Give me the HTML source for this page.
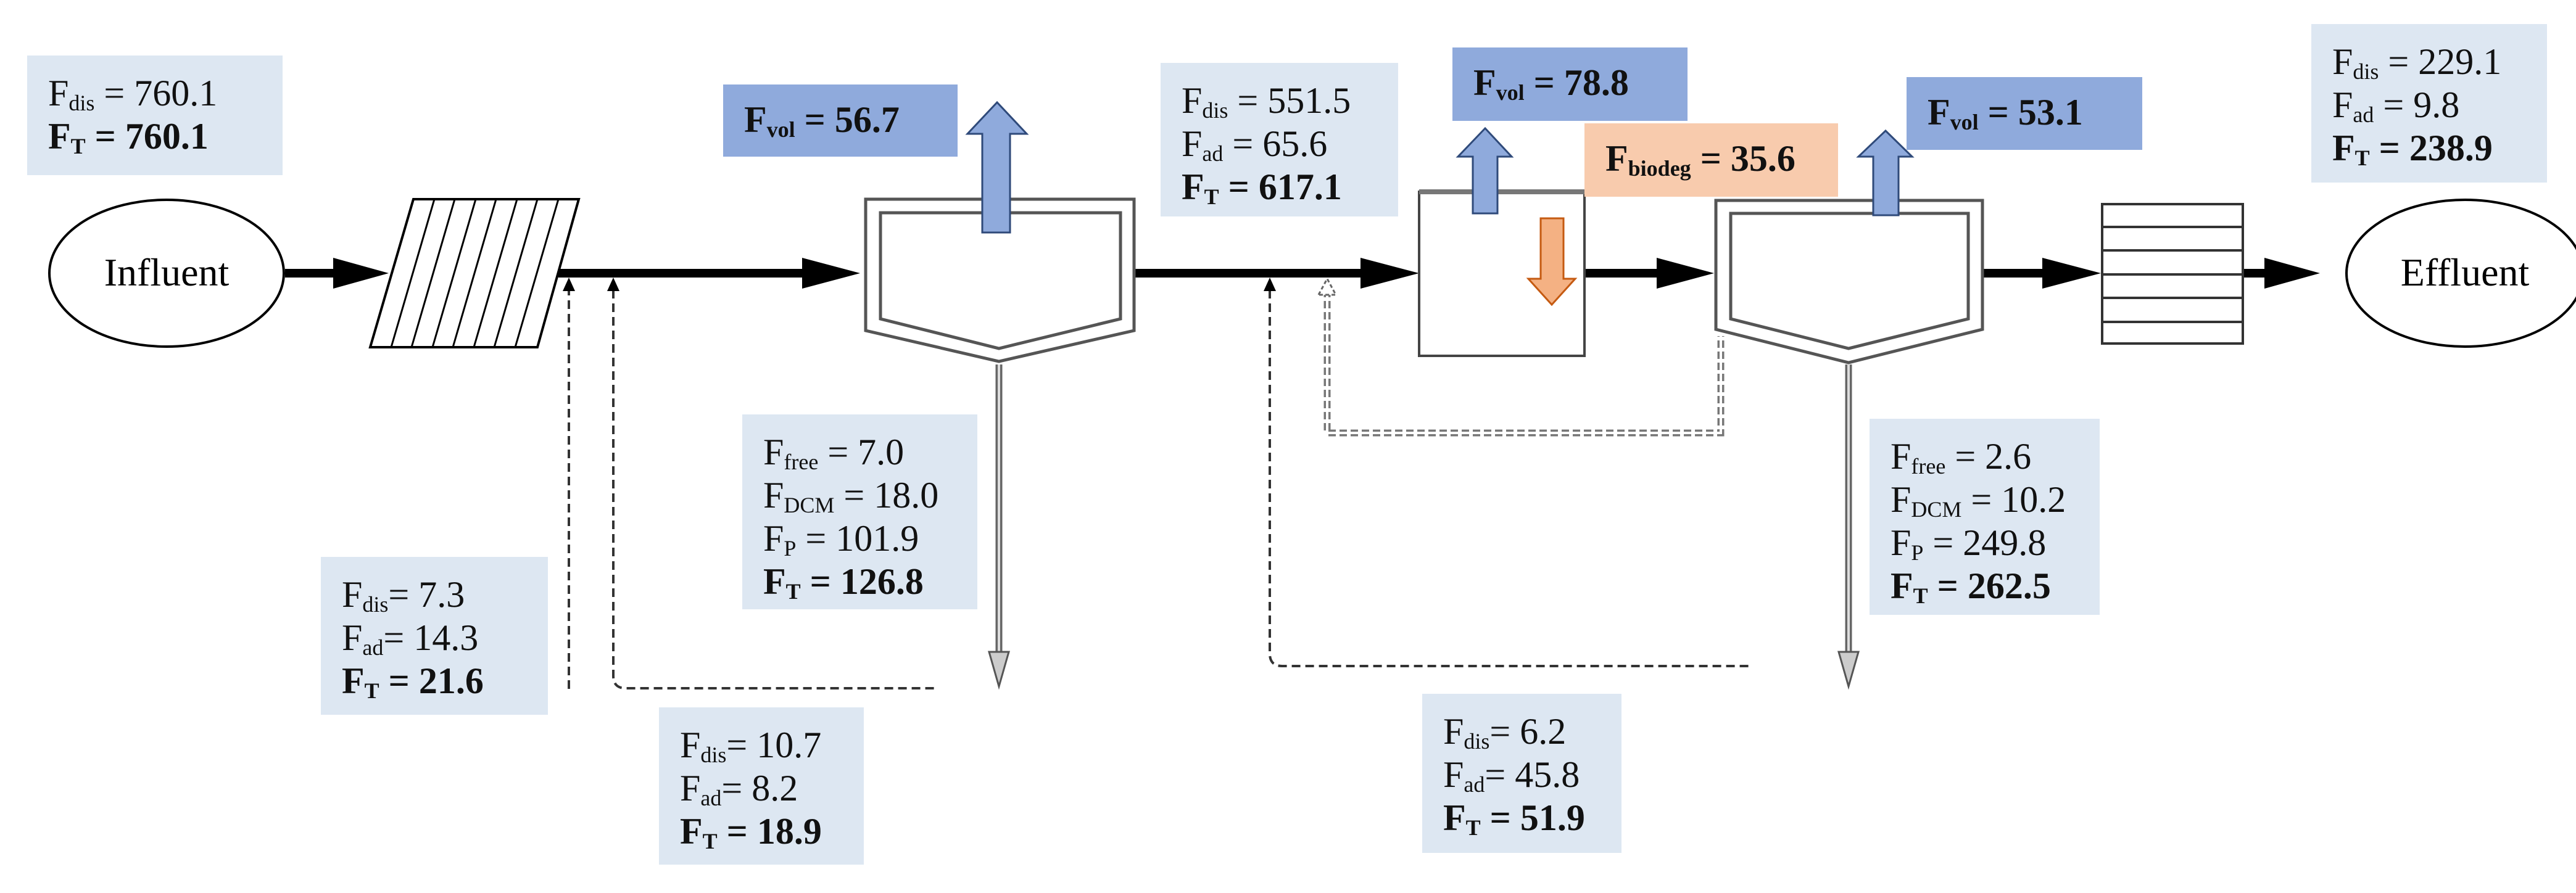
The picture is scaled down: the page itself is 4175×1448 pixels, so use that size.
<!DOCTYPE html>
<html><head><meta charset="utf-8"><style>
body{margin:0;width:4175px;height:1448px;background:#fff;position:relative;overflow:hidden;font-family:"Liberation Serif",serif;}
.b{position:absolute;background:#dde7f2;font-size:60px;line-height:70px;color:#111;padding:26px 34px;box-sizing:border-box;white-space:nowrap}
.b sub{font-size:36px;vertical-align:-8px;line-height:0}
.v{background:#8faadc;font-weight:bold}
.o{background:#f8cbad;font-weight:bold}
b{font-weight:bold}
svg{position:absolute;left:0;top:0}
</style></head><body>
<svg width="4175" height="1448" viewBox="0 0 4175 1448">
<defs>
<marker id="ah" markerWidth="6" markerHeight="6" refX="5" refY="3" orient="auto" markerUnits="strokeWidth"><path d="M0,0 L6,3 L0,6 z" fill="#000"/></marker>
</defs>
<g stroke="#000" stroke-width="4" fill="#fff">
<ellipse cx="270" cy="443" rx="190" ry="119"/>
<ellipse cx="3995" cy="443" rx="192" ry="119"/>
</g>
<text x="270" y="463" font-family="Liberation Serif" font-size="64" text-anchor="middle">Influent</text>
<text x="3995" y="463" font-family="Liberation Serif" font-size="64" text-anchor="middle">Effluent</text>
<!-- main thick lines -->
<g stroke="#000" stroke-width="14">
<line x1="462" y1="443" x2="560" y2="443"/>
<line x1="905" y1="443" x2="1310" y2="443"/>
<line x1="1838" y1="443" x2="2215" y2="443"/>
<line x1="2568" y1="443" x2="2695" y2="443"/>
<line x1="3213" y1="443" x2="3320" y2="443"/>
<line x1="3635" y1="443" x2="3680" y2="443"/>
</g>
<g fill="#000">
<path d="M540,418 L630,443 L540,468z"/>
<path d="M1300,418 L1394,443 L1300,468z"/>
<path d="M2205,418 L2300,443 L2205,468z"/>
<path d="M2685,418 L2778,443 L2685,468z"/>
<path d="M3310,418 L3405,443 L3310,468z"/>
<path d="M3670,418 L3760,443 L3670,468z"/>
</g>
<!-- screen -->
<g stroke="#000" stroke-width="4" fill="#fff">
<path d="M670,323 L938,323 L871,563 L600,563z"/>
</g>
<g stroke="#000" stroke-width="3">
<line x1="704" y1="323" x2="634" y2="563"/><line x1="737" y1="323" x2="667" y2="563"/>
<line x1="771" y1="323" x2="701" y2="563"/><line x1="804" y1="323" x2="734" y2="563"/>
<line x1="838" y1="323" x2="768" y2="563"/><line x1="871" y1="323" x2="801" y2="563"/>
<line x1="905" y1="323" x2="835" y2="563"/>
</g>
<!-- dashed returns -->
<g stroke="#333" stroke-width="4" fill="none" stroke-dasharray="14,8">
<line x1="922" y1="1117" x2="922" y2="470"/>
<path d="M994,470 L994,1096 Q994,1116 1014,1116 L1521,1116"/>
<path d="M2058,470 L2058,1060 Q2058,1080 2078,1080 L2838,1080"/>
</g>
<g fill="#000">
<path d="M912,472 L922,450 L932,472z"/>
<path d="M984,472 L994,450 L1004,472z"/>
<path d="M2048,472 L2058,450 L2068,472z"/>
</g>
<!-- double dashed gray return -->
<g fill="none" stroke-dasharray="12,6">
<path d="M2151,470 L2151,702 L2789,702 L2789,545" stroke="#777" stroke-width="11"/>
<path d="M2151,470 L2151,702 L2789,702 L2789,545" stroke="#fff" stroke-width="4"/>
</g>
<path d="M2137,478 L2151,452 L2165,478z" fill="#fff" stroke="#666" stroke-width="3" stroke-dasharray="6,4"/>
<!-- clarifier 1 -->
<path d="M1403,323 L1838,323 L1838,536 L1619,586 L1403,536z" fill="#fff" stroke="#555" stroke-width="5"/>
<path d="M1427,345 L1816,345 L1816,517 L1619,565 L1427,517z" fill="#fff" stroke="#555" stroke-width="5"/>
<!-- clarifier 2 -->
<path d="M2781,325 L3213,325 L3213,534 L2996,588 L2781,534z" fill="#fff" stroke="#555" stroke-width="5"/>
<path d="M2805,346 L3190,346 L3190,517 L2996,565 L2805,517z" fill="#fff" stroke="#555" stroke-width="5"/>
<!-- reactor -->
<rect x="2300" y="311" width="268" height="266" fill="#fff" stroke="#444" stroke-width="4"/>
<line x1="2300" y1="311" x2="2568" y2="311" stroke="#777" stroke-width="8"/>
<!-- filter -->
<rect x="3407" y="331" width="228" height="226" fill="#fff" stroke="#333" stroke-width="4"/>
<g stroke="#333" stroke-width="4"><line x1="3407" y1="368" x2="3635" y2="368"/><line x1="3407" y1="406" x2="3635" y2="406"/><line x1="3407" y1="445" x2="3635" y2="445"/><line x1="3407" y1="483" x2="3635" y2="483"/><line x1="3407" y1="522" x2="3635" y2="522"/></g>
<!-- gray sludge lines -->
<g>
<line x1="1619" y1="591" x2="1619" y2="1060" stroke="#666" stroke-width="11"/>
<line x1="1619" y1="591" x2="1619" y2="1060" stroke="#ddd" stroke-width="4"/>
<path d="M1603,1057 L1635,1057 L1619,1113z" fill="#ccc" stroke="#555" stroke-width="3"/>
<line x1="2996" y1="591" x2="2996" y2="1060" stroke="#666" stroke-width="11"/>
<line x1="2996" y1="591" x2="2996" y2="1060" stroke="#ddd" stroke-width="4"/>
<path d="M2980,1057 L3012,1057 L2996,1113z" fill="#ccc" stroke="#555" stroke-width="3"/>
</g>
<!-- blue up arrows -->
<g fill="#8faadc" stroke="#2f4a7a" stroke-width="3">
<path d="M1592,377 L1592,217 L1568,217 L1616,166 L1664,217 L1637,217 L1637,377z"/>
<path d="M2387,346 L2387,254 L2363,254 L2407,208 L2450,254 L2427,254 L2427,346z"/>
<path d="M3036,349 L3036,254 L3012,254 L3056,212 L3099,254 L3077,254 L3077,349z"/>
</g>
<path d="M2497,354 L2534,354 L2534,452 L2553,452 L2515,494 L2477,452 L2497,452z" fill="#f4b183" stroke="#c55a11" stroke-width="3"/>
</svg>
<div class="b" style="left:44px;top:90px;width:414px;height:194px">F<sub>dis</sub> = 760.1<br><b>F<sub>T</sub> = 760.1</b></div>
<div class="b v" style="left:1172px;top:137px;width:380px;height:117px;padding-top:22px">F<sub>vol</sub> = 56.7</div>
<div class="b" style="left:1881px;top:102px;width:385px;height:249px">F<sub>dis</sub> = 551.5<br>F<sub>ad</sub> = 65.6<br><b>F<sub>T</sub> = 617.1</b></div>
<div class="b v" style="left:2354px;top:77px;width:381px;height:119px;padding-top:22px">F<sub>vol</sub> = 78.8</div>
<div class="b o" style="left:2568px;top:200px;width:411px;height:119px;padding-top:22px">F<sub>biodeg</sub> = 35.6</div>
<div class="b v" style="left:3090px;top:125px;width:382px;height:118px;padding-top:22px">F<sub>vol</sub> = 53.1</div>
<div class="b" style="left:3746px;top:39px;width:382px;height:257px">F<sub>dis</sub> = 229.1<br>F<sub>ad</sub> = 9.8<br><b>F<sub>T</sub> = 238.9</b></div>
<div class="b" style="left:1203px;top:672px;width:381px;height:316px">F<sub>free</sub> = 7.0<br>F<sub>DCM</sub> = 18.0<br>F<sub>P</sub> = 101.9<br><b>F<sub>T</sub> = 126.8</b></div>
<div class="b" style="left:520px;top:903px;width:368px;height:256px">F<sub>dis</sub>= 7.3<br>F<sub>ad</sub>= 14.3<br><b>F<sub>T</sub> = 21.6</b></div>
<div class="b" style="left:1068px;top:1147px;width:332px;height:255px">F<sub>dis</sub>= 10.7<br>F<sub>ad</sub>= 8.2<br><b>F<sub>T</sub> = 18.9</b></div>
<div class="b" style="left:3030px;top:679px;width:373px;height:318px">F<sub>free</sub> = 2.6<br>F<sub>DCM</sub> = 10.2<br>F<sub>P</sub> = 249.8<br><b>F<sub>T</sub> = 262.5</b></div>
<div class="b" style="left:2305px;top:1125px;width:323px;height:258px">F<sub>dis</sub>= 6.2<br>F<sub>ad</sub>= 45.8<br><b>F<sub>T</sub> = 51.9</b></div>
</body></html>
